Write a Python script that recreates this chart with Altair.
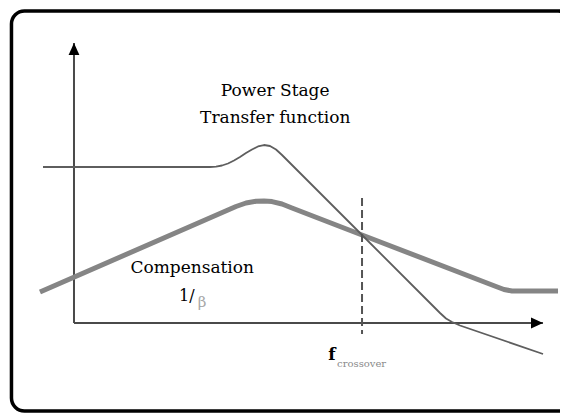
import altair as alt
import pandas as pd

# ---- data (diagram units: x = log-frequency, y = gain) ----
ps_x = [-0.661, 2.900, 3.028, 3.156, 3.284, 3.412, 3.539, 3.667, 3.795, 3.923, 4.051,
        4.179, 4.307, 4.435, 4.563, 4.819, 6.141, 7.591, 7.804, 7.932, 8.060, 8.230, 10.000]
ps_y = [5.571, 5.571, 5.586, 5.625, 5.696, 5.804, 5.929, 6.071, 6.196, 6.304, 6.357,
        6.321, 6.196, 6.000, 5.786, 5.357, 3.143, 0.714, 0.357, 0.161, 0.036, -0.089, -1.107]

comp_x = [-0.725, 3.454, 3.667, 3.881, 4.051, 4.222, 4.435, 4.648, 6.141, 8.998, 9.168, 9.339, 10.320]
comp_y = [1.107, 4.161, 4.286, 4.346, 4.357, 4.336, 4.250, 4.107, 3.143, 1.304, 1.196, 1.143, 1.143]

cross_x = 6.141
cross_y = [4.46, -0.39]

axis_end = 10.0

frame_x = [-1.333, 10.6]
frame_y = [11.143, -3.143]

labels_main = ["Power Stage", "Transfer function", "Compensation"]
labels_main_x = [4.29, 4.29, 2.52]
labels_main_y = [8.286, 7.321, 1.964]

X_DOMAIN = [-1.407, 10.362]
Y_DOMAIN = [-3.25, 11.25]

xs = alt.Scale(domain=X_DOMAIN, nice=False, zero=False)
ys = alt.Scale(domain=Y_DOMAIN, nice=False, zero=False)


def X(f):
    return alt.X(f, type="quantitative", scale=xs, axis=None)


def Y(f):
    return alt.Y(f, type="quantitative", scale=ys, axis=None)


ps_df = pd.DataFrame({"x": ps_x, "y": ps_y, "o": range(len(ps_x))})
comp_df = pd.DataFrame({"x": comp_x, "y": comp_y, "o": range(len(comp_x))})
cross_df = pd.DataFrame({"x": [cross_x, cross_x], "y": cross_y, "o": [0, 1]})
axes_df = pd.DataFrame({"x": [0, 0], "y": [0, 0], "x2": [axis_end, 0], "y2": [0, axis_end]})
frame_df = pd.DataFrame({"x": [frame_x[0]], "x2": [frame_x[1]], "y": [frame_y[0]], "y2": [frame_y[1]]})
main_txt = pd.DataFrame({"x": labels_main_x, "y": labels_main_y, "t": labels_main})

frame = alt.Chart(frame_df).mark_rect(
    fill="white", stroke="black", strokeWidth=3.5, cornerRadius=13
).encode(x=X("x"), x2="x2", y=Y("y"), y2="y2")

axes = alt.Chart(axes_df).mark_rule(color="#4a4a4a", strokeWidth=2).encode(
    x=X("x"), y=Y("y"), x2="x2", y2="y2"
)

arrow_r = alt.Chart(pd.DataFrame({"x": [axis_end], "y": [0]})).mark_point(
    shape="M0,0L-2,-0.9L-2,0.9Z", filled=True, color="black", opacity=1, size=144
).encode(x=X("x"), y=Y("y"))

arrow_u = alt.Chart(pd.DataFrame({"x": [0], "y": [axis_end]})).mark_point(
    shape="M0,0L-0.9,2L0.9,2Z", filled=True, color="black", opacity=1, size=144
).encode(x=X("x"), y=Y("y"))

comp = alt.Chart(comp_df).mark_line(
    color="#858585", strokeWidth=5, strokeCap="butt", strokeJoin="round"
).encode(x=X("x"), y=Y("y"), order="o")

ps = alt.Chart(ps_df).mark_line(
    color="#5e5e5e", strokeWidth=1.8, strokeJoin="round"
).encode(x=X("x"), y=Y("y"), order="o")

cross = alt.Chart(cross_df).mark_line(
    color="#555555", strokeWidth=2, strokeDash=[8, 4]
).encode(x=X("x"), y=Y("y"), order="o")

main_text = alt.Chart(main_txt).mark_text(
    font="DejaVu Serif", fontSize=17, color="black", align="center", baseline="middle"
).encode(x=X("x"), y=Y("y"), text="t")

one_over = alt.Chart(pd.DataFrame({"x": [2.24], "y": [0.964], "t": ["1/"]})).mark_text(
    font="DejaVu Serif", fontSize=16, color="black", align="left", baseline="middle"
).encode(x=X("x"), y=Y("y"), text="t")

beta = alt.Chart(pd.DataFrame({"x": [2.64], "y": [0.75], "t": ["β"]})).mark_text(
    font="DejaVu Serif", fontSize=15, color="#a8a8a8", align="left", baseline="middle"
).encode(x=X("x"), y=Y("y"), text="t")

f_txt = alt.Chart(pd.DataFrame({"x": [5.42], "y": [-1.143], "t": ["f"]})).mark_text(
    font="DejaVu Serif", fontSize=17, fontWeight="bold", color="black", align="left", baseline="middle"
).encode(x=X("x"), y=Y("y"), text="t")

sub_txt = alt.Chart(pd.DataFrame({"x": [5.61], "y": [-1.464], "t": ["crossover"]})).mark_text(
    font="DejaVu Serif", fontSize=10, color="#8a8a8a", align="left", baseline="middle"
).encode(x=X("x"), y=Y("y"), text="t")

chart = alt.layer(
    frame, axes, arrow_r, arrow_u, comp, ps, cross, main_text, one_over, beta, f_txt, sub_txt
).properties(
    width=552, height=406, padding=0, autosize=alt.AutoSizeParams(type="none")
).configure_view(stroke=None)

chart.save("out.html", embed_options={"renderer": "svg", "actions": False})
